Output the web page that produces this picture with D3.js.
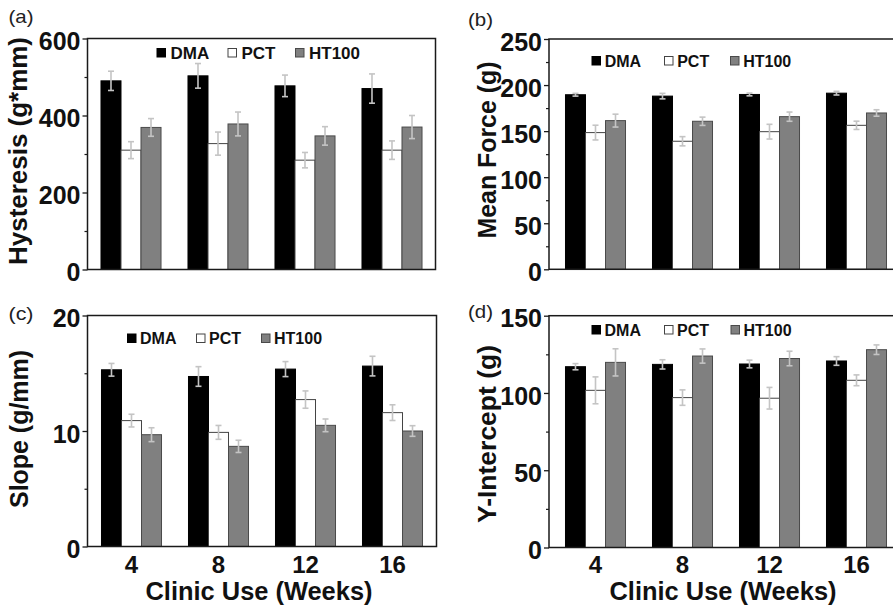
<!DOCTYPE html>
<html><head><meta charset="utf-8">
<script src="https://cdn.jsdelivr.net/npm/d3@7/dist/d3.min.js"></script>
<style>
body{margin:0;background:#fff;}
svg{display:block;font-family:"Liberation Sans",Arial,Helvetica,sans-serif;}
</style>
</head><body>
<svg id="chart" width="893" height="609"></svg>
<script>
// ---------- data ----------
const categories = ["4", "8", "12", "16"];
const seriesNames = ["DMA", "PCT", "HT100"];

// (a) Hysteresis (g*mm)
const hysDMA = [490, 503, 477, 470];
const hysPCT = [310, 327, 284, 310];
const hysHT  = [369, 378, 347, 370];
const hysDMAerr = [25, 32, 28, 38];
const hysPCTerr = [22, 30, 20, 24];
const hysHTerr  = [23, 31, 24, 30];
const hysTicks = [0, 200, 400, 600];
const hysMinor = [100, 300, 500];

// (b) Mean Force (g)
const forceDMA = [189.5, 188, 189.8, 191.2];
const forcePCT = [148.4, 139, 149.4, 156.3];
const forceHT  = [161.4, 160.7, 165.7, 169.7];
const forceDMAerr = [1.5, 3, 1.5, 2];
const forcePCTerr = [8, 5, 8, 4.5];
const forceHTerr  = [7, 4.5, 5, 3.5];
const forceTicks = [0, 50, 100, 150, 200, 250];
const forceMinor = [25, 75, 125, 175, 225];

// (c) Slope (g/mm)
const slopeDMA = [15.3, 14.72, 15.36, 15.62];
const slopePCT = [10.9, 9.88, 12.72, 11.59];
const slopeHT  = [9.68, 8.67, 10.49, 10.0];
const slopeDMAerr = [0.55, 0.85, 0.65, 0.85];
const slopePCTerr = [0.55, 0.6, 0.75, 0.68];
const slopeHTerr  = [0.6, 0.53, 0.55, 0.46];
const slopeTicks = [0, 10, 20];
const slopeMinor = [5, 15];

// (d) Y-Intercept (g)
const intDMA = [117, 118.5, 118.75, 120.7];
const intPCT = [101.7, 97, 96.6, 108.2];
const intHT  = [119.8, 123.9, 122.3, 128];
const intDMAerr = [2, 3, 2.5, 2.8];
const intPCTerr = [8.7, 5, 7, 3.5];
const intHTerr  = [8.8, 4.6, 4.7, 3.1];
const intTicks = [0, 50, 100, 150];
const intMinor = [25, 75, 125];

const xTitle = "Clinic Use (Weeks)";

// ---------- styles ----------
const fills   = {DMA: "#000000", PCT: "#ffffff", HT100: "#808080"};
const strokes = {DMA: "#000000", PCT: "#444444", HT100: "#4a4a4a"};
const errColor = "#c4c4c4";

// ---------- panels ----------
const panels = [
  {letter: "(a)", title: "Hysteresis (g*mm)", max: 600, ticks: hysTicks, minor: hysMinor,
   vals: [hysDMA, hysPCT, hysHT], errs: [hysDMAerr, hysPCTerr, hysHTerr],
   frame: {l: 87.5, r: 435.5, t: 38.5, b: 269.5}, xr: [87.5, 435.5],
   ytitle: {x: 27, cy: 151, fs: 26, len: 228},
   letterPos: {x: 8.5, y: 23},
   legend: {sq: [157, 228, 295.5], off: 13.5, y: 58.5, fs: 17},
   bottom: false},
  {letter: "(b)", title: "Mean Force (g)", max: 250, ticks: forceTicks, minor: forceMinor,
   vals: [forceDMA, forcePCT, forceHT], errs: [forceDMAerr, forcePCTerr, forceHTerr],
   frame: {l: 549, r: 902, t: 39, b: 269.3}, xr: [552, 900],
   ytitle: {x: 495.7, cy: 150, fs: 26.5, len: 177},
   letterPos: {x: 468, y: 25.5},
   legend: {sq: [592, 664.5, 730.5], off: 12.7, y: 66.5, fs: 16},
   bottom: false},
  {letter: "(c)", title: "Slope (g/mm)", max: 20, ticks: slopeTicks, minor: slopeMinor,
   vals: [slopeDMA, slopePCT, slopeHT], errs: [slopeDMAerr, slopePCTerr, slopeHTerr],
   frame: {l: 87.5, r: 436.5, t: 315.5, b: 546.5}, xr: [88, 436],
   ytitle: {x: 28.3, cy: 429, fs: 25.5, len: 158},
   letterPos: {x: 8.5, y: 320},
   legend: {sq: [127.5, 196.5, 261.5], off: 12.5, y: 344, fs: 16},
   bottom: true, xtitleX: 259},
  {letter: "(d)", title: "Y-Intercept (g)", max: 150, ticks: intTicks, minor: intMinor,
   vals: [intDMA, intPCT, intHT], errs: [intDMAerr, intPCTerr, intHTerr],
   frame: {l: 549, r: 902, t: 315.7, b: 547.5}, xr: [552, 900],
   ytitle: {x: 496.3, cy: 434, fs: 26.5, len: 178},
   letterPos: {x: 468, y: 317.5},
   legend: {sq: [592, 664.5, 731], off: 12.5, y: 335.5, fs: 16},
   bottom: true, xtitleX: 723}
];

const svg = d3.select("#chart");

panels.forEach(p => {
  const g = svg.append("g");
  const y = d3.scaleLinear().domain([0, p.max]).range([p.frame.b, p.frame.t]);
  const x0 = d3.scaleBand().domain(categories).range(p.xr).paddingInner(0.31).paddingOuter(0.155);
  const x1 = d3.scaleBand().domain(seriesNames).range([0, x0.bandwidth()]).padding(0);

  // bars
  seriesNames.forEach((s, j) => {
    const data = categories.map((c, i) => ({c, v: p.vals[j][i], e: p.errs[j][i]}));
    g.append("g").selectAll("rect").data(data).join("rect")
      .attr("x", d => x0(d.c) + x1(s))
      .attr("y", d => y(d.v))
      .attr("width", x1.bandwidth())
      .attr("height", d => y(0) - y(d.v))
      .attr("fill", fills[s])
      .attr("stroke", strokes[s])
      .attr("stroke-width", 1);
  });
  // error bars
  seriesNames.forEach((s, j) => {
    const data = categories.map((c, i) => ({c, v: p.vals[j][i], e: p.errs[j][i]}));
    const eg = g.append("g").attr("stroke", errColor).attr("stroke-width", 1.6);
    const cx = d => x0(d.c) + x1(s) + x1.bandwidth() / 2;
    eg.selectAll("line.v").data(data).join("line").attr("class", "v")
      .attr("x1", cx).attr("x2", cx)
      .attr("y1", d => y(d.v - d.e)).attr("y2", d => y(d.v + d.e));
    eg.selectAll("line.t").data(data).join("line").attr("class", "t")
      .attr("x1", d => cx(d) - 3).attr("x2", d => cx(d) + 3)
      .attr("y1", d => y(d.v + d.e)).attr("y2", d => y(d.v + d.e));
    eg.selectAll("line.b").data(data).join("line").attr("class", "b")
      .attr("x1", d => cx(d) - 3).attr("x2", d => cx(d) + 3)
      .attr("y1", d => y(d.v - d.e)).attr("y2", d => y(d.v - d.e));
  });

  // frame
  g.append("rect")
    .attr("x", p.frame.l).attr("y", p.frame.t)
    .attr("width", p.frame.r - p.frame.l).attr("height", p.frame.b - p.frame.t)
    .attr("fill", "none").attr("stroke", "#1a1a1a").attr("stroke-width", 1.5);

  // y axis major
  const ax = g.append("g").attr("transform", `translate(${p.frame.l},0)`)
    .call(d3.axisLeft(y).tickValues(p.ticks).tickSize(5).tickPadding(2).tickFormat(d3.format("d")));
  ax.select(".domain").remove();
  ax.selectAll(".tick line").attr("stroke", "#1a1a1a").attr("stroke-width", 1.3);
  ax.selectAll(".tick text")
    .attr("font-family", "'Liberation Sans', Arial, sans-serif")
    .attr("font-size", 25).attr("font-weight", "bold").attr("fill", "#111")
    .attr("dy", "0.45em");
  // y axis minor
  const axm = g.append("g").attr("transform", `translate(${p.frame.l},0)`)
    .call(d3.axisLeft(y).tickValues(p.minor).tickSize(3).tickFormat(""));
  axm.select(".domain").remove();
  axm.selectAll(".tick line").attr("stroke", "#1a1a1a").attr("stroke-width", 1.2);

  // y title
  g.append("text")
    .attr("transform", `translate(${p.ytitle.x},${p.ytitle.cy}) rotate(-90)`)
    .attr("text-anchor", "middle")
    .attr("font-size", p.ytitle.fs).attr("font-weight", "bold").attr("fill", "#111")
    .attr("textLength", p.ytitle.len).attr("lengthAdjust", "spacingAndGlyphs")
    .text(p.title);

  // panel letter
  g.append("text")
    .attr("x", p.letterPos.x).attr("y", p.letterPos.y)
    .attr("font-size", 19).attr("fill", "#222")
    .attr("textLength", 25).attr("lengthAdjust", "spacingAndGlyphs")
    .text(p.letter);

  // legend
  seriesNames.forEach((s, j) => {
    const sx = p.legend.sq[j];
    g.append("rect")
      .attr("x", sx).attr("y", p.legend.y - 10)
      .attr("width", 8.5).attr("height", 8.5)
      .attr("fill", fills[s]).attr("stroke", strokes[s]).attr("stroke-width", 1);
    g.append("text")
      .attr("x", sx + p.legend.off).attr("y", p.legend.y)
      .attr("font-size", p.legend.fs).attr("font-weight", "bold").attr("fill", "#111")
      .text(s);
  });

  // x axis labels for bottom panels
  if (p.bottom) {
    const xa = g.append("g").attr("transform", `translate(0,${p.frame.b})`)
      .call(d3.axisBottom(x0).tickSize(0).tickPadding(0));
    xa.select(".domain").remove();
    xa.selectAll(".tick text")
      .attr("font-family", "'Liberation Sans', Arial, sans-serif")
      .attr("font-size", 24).attr("font-weight", "bold").attr("fill", "#111")
      .attr("dy", null).attr("y", 573 - p.frame.b);
    g.append("text")
      .attr("x", p.xtitleX).attr("y", 600)
      .attr("text-anchor", "middle")
      .attr("font-size", 25).attr("font-weight", "bold").attr("fill", "#111")
      .attr("textLength", 227).attr("lengthAdjust", "spacingAndGlyphs")
      .text(xTitle);
  }
});
</script>
</body></html>
